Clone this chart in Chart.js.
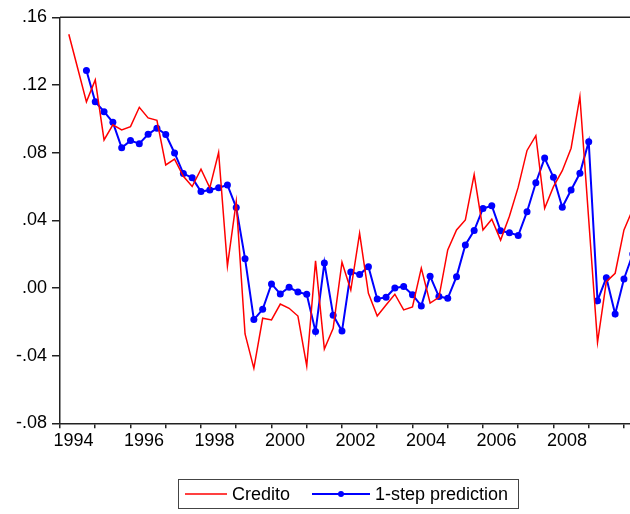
<!DOCTYPE html>
<html>
<head>
<meta charset="utf-8">
<script src="https://cdn.jsdelivr.net/npm/chart.js@4/dist/chart.umd.min.js"></script>
<style>
  html, body { margin: 0; padding: 0; background: #fff; overflow: hidden; width: 630px; height: 514px; }
  #wrap { position: relative; width: 660px; height: 514px; }
</style>
</head>
<body>
<div id="wrap"><canvas id="c" width="660" height="514"></canvas></div>
<script>
// Quarterly sample, first observation and count
const firstYear = 1994;
const firstQuarter = 1;
const nObs = 65;

// Credit growth (actual)
const credito = [
  0.150, 0.130, 0.110, 0.123, 0.0875, 0.0964, 0.0934, 0.0954, 0.1068, 0.1005,
  0.0991, 0.0727, 0.0762, 0.0660, 0.0600, 0.0702, 0.0592, 0.0801, 0.0130, 0.0510,
  -0.0272, -0.0475, -0.0179, -0.0189, -0.0095, -0.0120, -0.0166, -0.0461, 0.0160, -0.0361,
  -0.0238, 0.0152, -0.0012, 0.0323, -0.0032, -0.0166, -0.0101, -0.0037, -0.0130, -0.0112,
  0.0117, -0.0089, -0.0055, 0.0225, 0.0343, 0.0402, 0.0670, 0.0343, 0.0406, 0.0283,
  0.0424, 0.0596, 0.0813, 0.0900, 0.0471, 0.0599, 0.0693, 0.0826, 0.1131, 0.0405,
  -0.0321, 0.0037, 0.0087, 0.0343, 0.0465
];

// One-step-ahead forecast (starts two quarters later)
const prediction = [
  null, null, 0.1285, 0.1101, 0.1042, 0.0979, 0.0829, 0.0871, 0.0853, 0.0908,
  0.0944, 0.0907, 0.0798, 0.0676, 0.0651, 0.0570, 0.0579, 0.0592, 0.0609, 0.0475,
  0.0173, -0.0187, -0.0126, 0.0024, -0.0035, 0.0004, -0.0024, -0.0037, -0.0258, 0.0148,
  -0.0161, -0.0255, 0.0095, 0.0079, 0.0126, -0.0065, -0.0055, 0.0000, 0.0008, -0.0040,
  -0.0106, 0.0070, -0.0051, -0.0061, 0.0067, 0.0254, 0.0339, 0.0470, 0.0486, 0.0338,
  0.0327, 0.0310, 0.0451, 0.0622, 0.0768, 0.0654, 0.0477, 0.0579, 0.0678, 0.0865,
  -0.0075, 0.0061, -0.0154, 0.0053, 0.0201
];

// Axis ticks
const yearTicks = [1994, 1995, 1996, 1997, 1998, 1999, 2000, 2001, 2002, 2003, 2004, 2005, 2006, 2007, 2008, 2009, 2010];
const yearLabels = [1994, 1996, 1998, 2000, 2002, 2004, 2006, 2008];
const yTicks = [-0.08, -0.04, 0.00, 0.04, 0.08, 0.12, 0.16];
const yTickLabels = ['-.08', '-.04', '.00', '.04', '.08', '.12', '.16'];

const seriesNames = ['Credito', '1-step prediction'];

// Each quarter is placed at its closing point on the time axis
const periods = [];
for (let i = 0; i < nObs; i++) {
  const k = (firstQuarter - 1) + i;
  const y = firstYear + Math.floor(k / 4);
  const q = (k % 4) + 1;
  periods.push({ label: y + 'Q' + q, x: y + q / 4 });
}
const toPoints = arr => arr.map((v, i) => ({ x: periods[i].x, y: v }));

const FONT = "'Liberation Sans', Arial, Helvetica, sans-serif";
const axisColor = '#222';

// Frame on top of the plot area
const framePlugin = {
  id: 'frame',
  afterDraw(chart) {
    const { ctx, chartArea: a } = chart;
    ctx.save();
    ctx.strokeStyle = axisColor;
    ctx.lineWidth = 1.5;
    ctx.beginPath();
    ctx.moveTo(a.left, a.top);
    ctx.lineTo(a.right, a.top);
    ctx.lineTo(a.right, a.bottom);
    ctx.stroke();
    ctx.restore();
  }
};

// Boxed legend under the axis
const boxLegend = {
  id: 'boxLegend',
  afterDraw(chart) {
    const { ctx } = chart;
    const ds = chart.data.datasets;
    const cy = 494;
    ctx.save();
    ctx.strokeStyle = '#444';
    ctx.lineWidth = 1;
    ctx.strokeRect(178.5, 479.5, 340, 29);

    ctx.font = '18px ' + FONT;
    ctx.textBaseline = 'middle';

    ctx.strokeStyle = ds[0].borderColor;
    ctx.lineWidth = 1.5;
    ctx.beginPath(); ctx.moveTo(185, cy); ctx.lineTo(227, cy); ctx.stroke();
    ctx.fillStyle = '#000';
    ctx.fillText(ds[0].label, 232, cy + 1);

    ctx.strokeStyle = ds[1].borderColor;
    ctx.lineWidth = 2;
    ctx.beginPath(); ctx.moveTo(312, cy); ctx.lineTo(370, cy); ctx.stroke();
    ctx.fillStyle = ds[1].borderColor;
    ctx.beginPath(); ctx.arc(341, cy, 3, 0, Math.PI * 2); ctx.fill();
    ctx.fillStyle = '#000';
    ctx.fillText(ds[1].label, 375, cy + 1);
    ctx.restore();
  }
};

new Chart(document.getElementById('c'), {
  type: 'line',
  data: {
    datasets: [
      {
        label: seriesNames[0],
        data: toPoints(credito),
        borderColor: '#ff0000',
        backgroundColor: '#ff0000',
        borderWidth: 1.5,
        pointRadius: 0,
        tension: 0
      },
      {
        label: seriesNames[1],
        data: toPoints(prediction),
        borderColor: '#0000ff',
        backgroundColor: '#0000ff',
        borderWidth: 2,
        pointRadius: 3.5,
        pointBorderWidth: 0,
        pointBackgroundColor: '#0000ff',
        tension: 0,
        spanGaps: false
      }
    ]
  },
  options: {
    responsive: false,
    animation: false,
    devicePixelRatio: 1,
    layout: { padding: { top: 17.3, right: 9.6, bottom: 0, left: 0 } },
    plugins: {
      legend: { display: false },
      tooltip: { enabled: false }
    },
    scales: {
      x: {
        type: 'linear',
        min: 1994,
        max: 2010.75,
        afterBuildTicks: s => { s.ticks = yearTicks.map(v => ({ value: v })); },
        afterFit: s => { s.height = 90.7; },
        ticks: {
          autoSkip: false,
          maxRotation: 0,
          padding: 2,
          labelOffset: 13.5,
          color: '#000',
          font: { family: FONT, size: 18 },
          callback: v => (yearLabels.includes(v) ? String(v) : '')
        },
        grid: { drawOnChartArea: false, drawTicks: true, tickLength: 5, color: axisColor, lineWidth: 1.5 },
        border: { color: axisColor, width: 1.5 }
      },
      y: {
        min: -0.08,
        max: 0.16,
        afterBuildTicks: s => { s.ticks = yTicks.map(v => ({ value: v })); },
        afterFit: s => { s.width = 60; },
        ticks: {
          padding: 5,
          color: '#000',
          font: { family: FONT, size: 18 },
          callback: v => {
            const k = yTicks.findIndex(t => Math.abs(t - v) < 1e-9);
            return k >= 0 ? yTickLabels[k] : '';
          }
        },
        grid: { drawOnChartArea: false, drawTicks: true, tickLength: 8, color: axisColor, lineWidth: 1.5 },
        border: { color: axisColor, width: 1.5 }
      }
    }
  },
  plugins: [framePlugin, boxLegend]
});
</script>
</body>
</html>
